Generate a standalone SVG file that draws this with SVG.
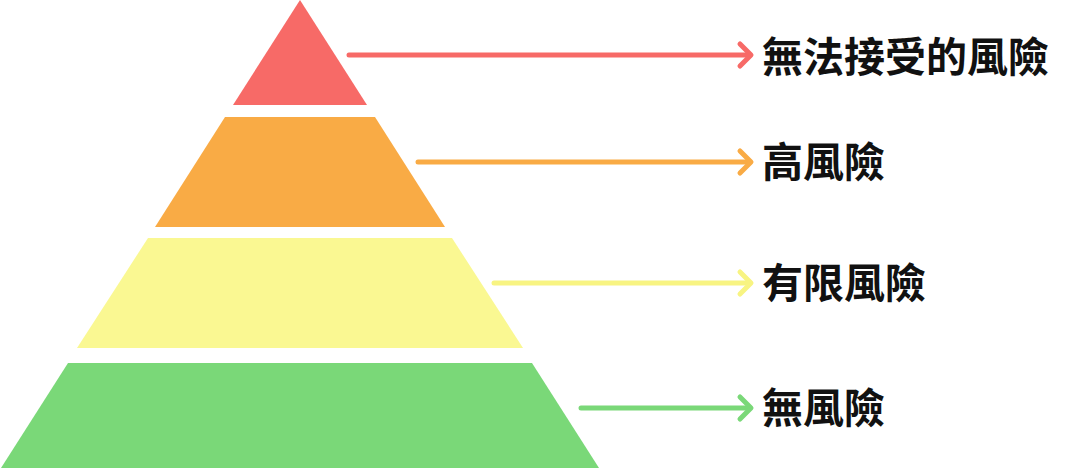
<svg xmlns="http://www.w3.org/2000/svg" width="1073" height="468" viewBox="0 0 1073 468">
<style>
.lbl{font-family:"Noto Sans CJK TC","Noto Sans CJK SC",sans-serif;font-weight:700;font-size:41px;fill:#111}
.conn{fill:none;stroke-width:5;stroke-linecap:round;stroke-linejoin:round}
</style>
<rect width="1073" height="468" fill="#ffffff"/>
<g id="layer-red"><polygon points="300,0 367,105 233,105" fill="#F76A67"/></g>
<g id="layer-orange"><polygon points="225,117 375,117 445,227 155,227" fill="#F9AB45"/></g>
<g id="layer-yellow"><polygon points="148,238 452,238 523,348 77,348" fill="#FAF892"/></g>
<g id="layer-green"><polygon points="68,363 532,363 599,468 1,468" fill="#7AD878"/></g>
<g id="connectors">
<g stroke="#F76A67" class="conn"><path d="M349,55 H750"/><path d="M740,44 L751,55 L740,66"/></g>
<g stroke="#F9AB45" class="conn"><path d="M418,162 H750"/><path d="M740,151 L751,162 L740,173"/></g>
<g stroke="#F8F482" class="conn"><path d="M494,283 H750"/><path d="M740,272 L751,283 L740,294"/></g>
<g stroke="#7AD878" class="conn"><path d="M581,408 H750"/><path d="M740,397 L751,408 L740,419"/></g>
</g>
<g id="label-red"><text class="lbl" x="762" y="72">無法接受的風險</text></g>
<g id="label-orange"><text class="lbl" x="762" y="177">高風險</text></g>
<g id="label-yellow"><text class="lbl" x="762" y="298">有限風險</text></g>
<g id="label-green"><text class="lbl" x="762" y="423">無風險</text></g>
</svg>
